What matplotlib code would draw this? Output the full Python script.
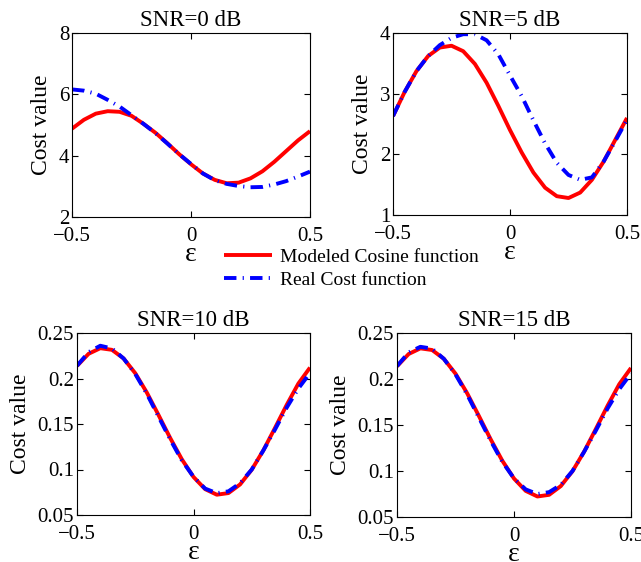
import numpy as np
import matplotlib.pyplot as plt

plt.rcParams['font.family'] = ['Liberation Serif', 'DejaVu Serif']

eps = [-0.5, -0.45, -0.4, -0.35, -0.3, -0.25, -0.2, -0.15, -0.1, -0.05, 0.0,
       0.05, 0.1, 0.15, 0.2, 0.25, 0.3, 0.35, 0.4, 0.45, 0.5]

# SNR = 0 dB
model_0 = [4.88, 5.17, 5.37, 5.45, 5.43, 5.30, 5.04, 4.75, 4.41, 4.05, 3.72,
           3.42, 3.21, 3.10, 3.12, 3.26, 3.49, 3.80, 4.15, 4.50, 4.80]
real_0 = [6.16, 6.12, 6.02, 5.82, 5.60, 5.32, 5.04, 4.74, 4.40, 4.05, 3.73,
          3.42, 3.20, 3.08, 3.01, 2.97, 2.98, 3.06, 3.17, 3.32, 3.48]

# SNR = 5 dB
model_5 = [2.63, 3.03, 3.37, 3.62, 3.76, 3.79, 3.70, 3.49, 3.18, 2.80, 2.40,
           2.03, 1.70, 1.45, 1.31, 1.28, 1.37, 1.58, 1.88, 2.24, 2.60]
real_5 = [2.63, 3.03, 3.37, 3.62, 3.80, 3.92, 3.98, 3.98, 3.88, 3.65, 3.30,
          2.96, 2.56, 2.18, 1.86, 1.66, 1.58, 1.62, 1.88, 2.22, 2.57]

# SNR = 10 dB
model_10 = [0.2138, 0.2272, 0.2333, 0.2315, 0.2220, 0.2058, 0.1844, 0.1598, 0.1346, 0.1112, 0.0918,
            0.0784, 0.0723, 0.0741, 0.0836, 0.0998, 0.1212, 0.1458, 0.1710, 0.1944, 0.2120]
real_10 = [0.214, 0.229, 0.236, 0.233, 0.222, 0.205, 0.183, 0.158, 0.133, 0.110, 0.092,
           0.079, 0.074, 0.076, 0.085, 0.100, 0.121, 0.144, 0.168, 0.189, 0.206]

# SNR = 15 dB
model_15 = [0.2138, 0.2272, 0.2333, 0.2315, 0.2220, 0.2058, 0.1844, 0.1598, 0.1346, 0.1112, 0.0918,
            0.0784, 0.0723, 0.0741, 0.0836, 0.0998, 0.1212, 0.1458, 0.1710, 0.1944, 0.2120]
real_15 = [0.214, 0.229, 0.235, 0.233, 0.222, 0.205, 0.183, 0.158, 0.133, 0.110, 0.092,
           0.080, 0.075, 0.077, 0.085, 0.100, 0.121, 0.144, 0.168, 0.189, 0.206]

titles = ["SNR=0 dB", "SNR=5 dB", "SNR=10 dB", "SNR=15 dB"]
models = [model_0, model_5, model_10, model_15]
reals = [real_0, real_5, real_10, real_15]
ylims = [(2, 8), (1, 4), (0.05, 0.25), (0.05, 0.25)]
yticks = [[2, 4, 6, 8], [1, 2, 3, 4],
          [0.05, 0.1, 0.15, 0.2, 0.25], [0.05, 0.1, 0.15, 0.2, 0.25]]
ytick_labels = [["2", "4", "6", "8"], ["1", "2", "3", "4"],
                ["0.05", "0.1", "0.15", "0.2", "0.25"], ["0.05", "0.1", "0.15", "0.2", "0.25"]]

W, H = 641, 562
boxes = [(72, 33, 310, 217), (393, 33, 627, 215), (77, 333, 310, 515), (397, 333, 631, 517)]

fig = plt.figure(figsize=(W / 100, H / 100), dpi=100)

for i in range(4):
    x0, y0, x1, y1 = boxes[i]
    ax = fig.add_axes([x0 / W, 1 - y1 / H, (x1 - x0) / W, (y1 - y0) / H])
    l1, = ax.plot(eps, models[i], color="red", lw=2.8, solid_capstyle="butt",
                  solid_joinstyle="round")
    l2, = ax.plot(eps, reals[i], color="blue", lw=2.8, dashes=(3.2, 1.6, 0.3, 1.6),
                  dash_joinstyle="round")
    ax.set_xlim(-0.5, 0.5)
    ax.set_ylim(*ylims[i])
    ax.set_xticks([-0.5, 0, 0.5])
    ax.set_xticklabels(["\u22120.5", "0", "0.5"])
    ax.set_yticks(yticks[i])
    ax.set_yticklabels(ytick_labels[i])
    ax.tick_params(direction="in", top=True, right=True, labelsize=15, length=4, width=0.8)
    ax.tick_params(axis="x", pad=7)
    ax.tick_params(axis="y", pad=2)
    ax.set_title(titles[i], fontsize=16.5, pad=5)
    ax.set_ylabel("Cost value", fontsize=17, labelpad=5)
    ax.set_xlabel("\u03b5", fontsize=20, labelpad=-3)
    for s in ax.spines.values():
        s.set_linewidth(0.8)

fig.legend([l1, l2], ["Modeled Cosine function", "Real Cost function"],
           loc="center", bbox_to_anchor=(0.548, 0.522), frameon=False,
           fontsize=14, handlelength=2.5, handletextpad=0.4, labelspacing=0.3)

fig.savefig("out.png", dpi=100)
